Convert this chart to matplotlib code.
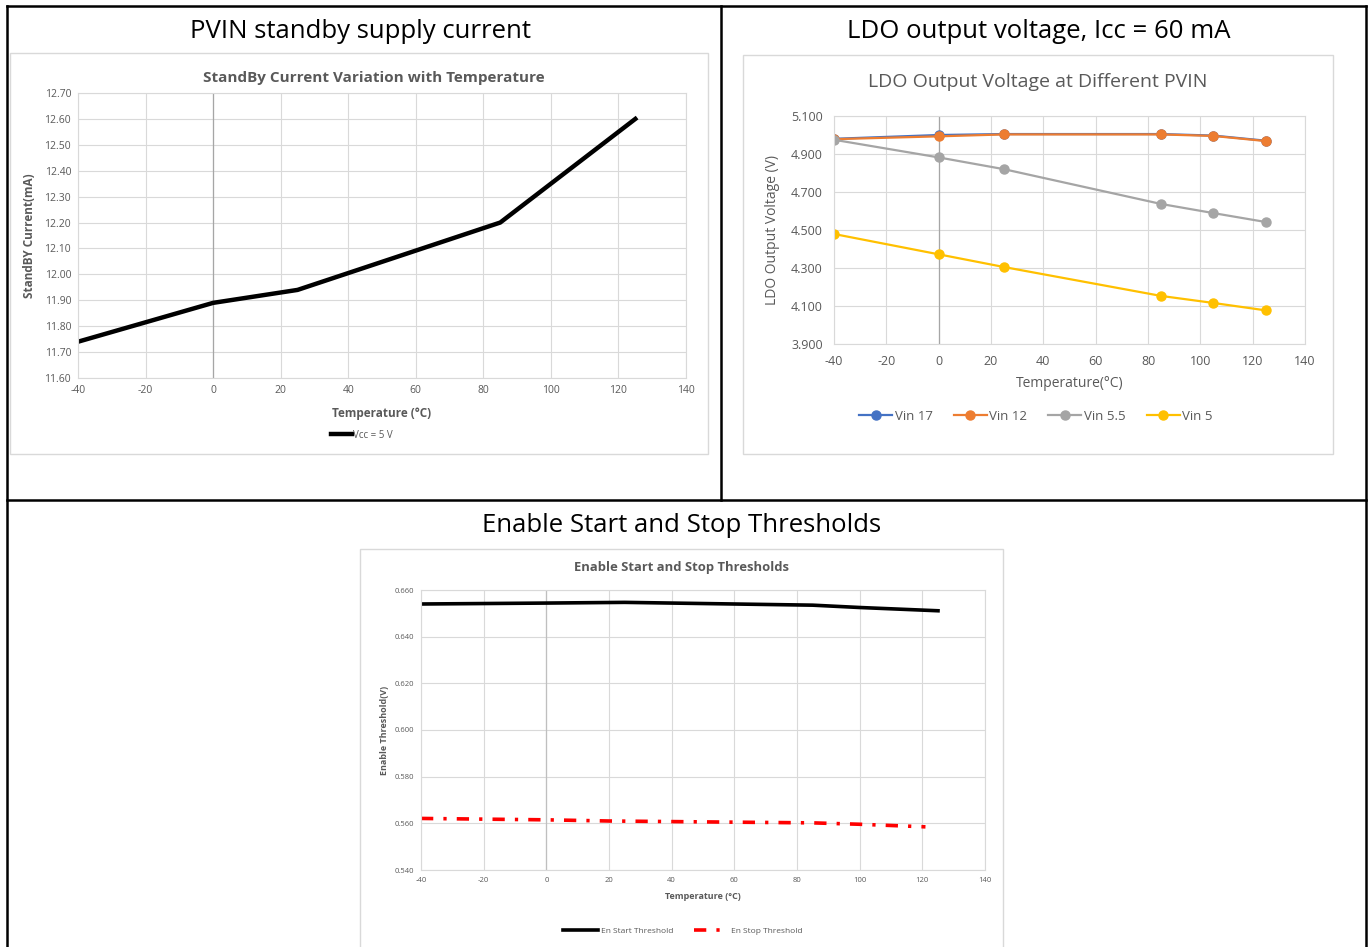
import matplotlib
matplotlib.use("Agg")
from matplotlib import pyplot as plt
from matplotlib.patches import Rectangle
from matplotlib.lines import Line2D

plt.rcParams['font.family'] = ['Open Sans', 'DejaVu Sans']
plt.rcParams['axes.unicode_minus'] = False

# data
temp_standby = [-40, 0, 25, 85, 125]
standby_current = [11.74, 11.89, 11.94, 12.20, 12.60]

temp_ldo = [-40, 0, 25, 85, 105, 125]
vin17 = [4.980, 5.000, 5.005, 5.005, 4.997, 4.970]
vin12 = [4.978, 4.993, 5.003, 5.003, 4.995, 4.968]
vin55 = [4.975, 4.882, 4.820, 4.637, 4.589, 4.542]
vin5 = [4.479, 4.372, 4.305, 4.153, 4.116, 4.077]
ldo_names = ['Vin 17', 'Vin 12', 'Vin 5.5', 'Vin 5']
ldo_colors = ['#4472C4', '#ED7D31', '#A5A5A5', '#FFC000']

temp_en = [-40, 0, 25, 60, 85, 100, 125]
en_start = [0.6540, 0.6544, 0.6547, 0.6540, 0.6535, 0.6525, 0.6511]
temp_en_stop = [-40, 0, 20, 60, 85, 100, 121]
en_stop = [0.5621, 0.5615, 0.5610, 0.5605, 0.5602, 0.5596, 0.5585]

x_ticks = list(range(-40, 141, 20))

W, H = 1370, 947
fig = plt.figure(figsize=(W / 100, H / 100), dpi=100)


def fx(x):
    return x / W


def fy(y):
    return 1 - y / H


def box(x0, y0, x1, y1):
    return [x0 / W, 1 - y1 / H, (x1 - x0) / W, (y1 - y0) / H]


# table borders
for xs, ys in [((7, 1366), (6, 6)), ((7, 7), (6, 947)), ((1366, 1366), (6, 947)),
               ((721, 721), (6, 500)), ((7, 1366), (500, 500))]:
    fig.add_artist(Line2D([fx(v) for v in xs], [fy(v) for v in ys],
                          color='black', lw=1.8, transform=fig.transFigure))

# chart frames
for x0, y0, x1, y1 in [(10, 53, 708, 454), (743, 55, 1333, 454), (360, 549, 1003, 950)]:
    fig.add_artist(Rectangle((fx(x0), fy(y1)), (x1 - x0) / W, (y1 - y0) / H,
                             fill=False, ec='#d9d9d9', lw=1.0, transform=fig.transFigure))

# cell titles
fig.text(fx(360), fy(31), 'PVIN standby supply current', ha='center', va='center', fontsize=18.5)
fig.text(fx(1039), fy(31), 'LDO output voltage, Icc = 60 mA', ha='center', va='center', fontsize=18.5)
fig.text(fx(682), fy(526), 'Enable Start and Stop Thresholds', ha='center', va='center', fontsize=18.5)

# chart titles, centred on the chart frames
fig.text(fx(374), fy(78), 'StandBy Current Variation with Temperature', ha='center', va='center',
         fontsize=11, fontweight='bold', color='#595959')
fig.text(fx(1038), fy(82), 'LDO Output Voltage at Different PVIN', ha='center', va='center',
         fontsize=14, color='#595959')
fig.text(fx(682), fy(568), 'Enable Start and Stop Thresholds', ha='center', va='center',
         fontsize=9.4, fontweight='bold', color='#595959')


def style_axes(ax, tick_size, zero_color, pad=5):
    ax.set_xlim(-40, 140)
    ax.set_xticks(x_ticks)
    ax.grid(True, color='#d9d9d9', lw=0.8)
    ax.set_axisbelow(True)
    for s in ax.spines.values():
        s.set_color('#d9d9d9')
        s.set_linewidth(0.8)
    ax.tick_params(length=0, labelsize=tick_size, labelcolor='#595959', pad=pad)
    ax.axvline(0, color=zero_color, lw=0.9, zorder=1)


# chart 1: standby current
ax1 = fig.add_axes(box(78, 93, 686, 378))
ax1.plot(temp_standby, standby_current, color='black', lw=3.2, label='Vcc = 5 V')
ax1.set_ylim(11.60, 12.70)
ax1.set_yticks([11.6 + 0.1 * i for i in range(12)])
ax1.set_yticklabels(['%.2f' % (11.6 + 0.1 * i) for i in range(12)])
style_axes(ax1, 7.5, '#a6a6a6')
ax1.set_xlabel('Temperature (°C)', fontsize=8.5, fontweight='bold', color='#595959', labelpad=8)
ax1.set_ylabel('StandBY Current(mA)', fontsize=8.5, fontweight='bold', color='#595959', labelpad=6)
ax1.legend(loc='center', bbox_to_anchor=(fx(362), fy(435)), bbox_transform=fig.transFigure,
           frameon=False, fontsize=7, handlelength=2.2, handletextpad=0.1, labelcolor='#595959')

# chart 2: LDO output voltage
ax2 = fig.add_axes(box(834, 116, 1305, 344))
for vals, name, col in zip([vin17, vin12, vin55, vin5], ldo_names, ldo_colors):
    ax2.plot(temp_ldo, vals, color=col, lw=1.6, marker='o', ms=6.5, label=name)
ax2.set_ylim(3.9, 5.1)
ax2.set_yticks([3.9 + 0.2 * i for i in range(7)])
ax2.set_yticklabels(['%.3f' % (3.9 + 0.2 * i) for i in range(7)])
style_axes(ax2, 9, '#a6a6a6', pad=8)
ax2.set_xlabel('Temperature(°C)', fontsize=10, color='#595959', labelpad=6)
ax2.set_ylabel('LDO Output Voltage (V)', fontsize=10, color='#595959', labelpad=8)
ax2.legend(loc='center', bbox_to_anchor=(fx(1036), fy(416)), bbox_transform=fig.transFigure,
           frameon=False, fontsize=9.5, ncol=4, handlelength=2.5, handletextpad=0.2,
           columnspacing=1.6, labelcolor='#595959')

# chart 3: enable thresholds
ax3 = fig.add_axes(box(421, 590, 985, 870))
ax3.plot(temp_en, en_start, color='black', lw=2.6, label='En Start Threshold')
ax3.plot(temp_en_stop, en_stop, color='#ff0000', lw=2.6, linestyle=(0, (3.4, 2.8, 0.9, 2.8)),
         label='En Stop Threshold')
ax3.set_ylim(0.54, 0.66)
ax3.set_yticks([0.54 + 0.02 * i for i in range(7)])
ax3.set_yticklabels(['%.3f' % (0.54 + 0.02 * i) for i in range(7)])
style_axes(ax3, 5.5, '#bfbfbf')
ax3.set_xlabel('Temperature (°C)', fontsize=6.5, fontweight='bold', color='#595959', labelpad=6)
ax3.set_ylabel('Enable Threshold(V)', fontsize=6.5, fontweight='bold', color='#595959', labelpad=4)
ax3.legend(loc='center', bbox_to_anchor=(fx(683), fy(931)), bbox_transform=fig.transFigure,
           frameon=False, fontsize=6, ncol=2, handlelength=4.2, handletextpad=0.3,
           columnspacing=2.5, labelcolor='#595959')

fig.savefig('out.png', dpi=100)
